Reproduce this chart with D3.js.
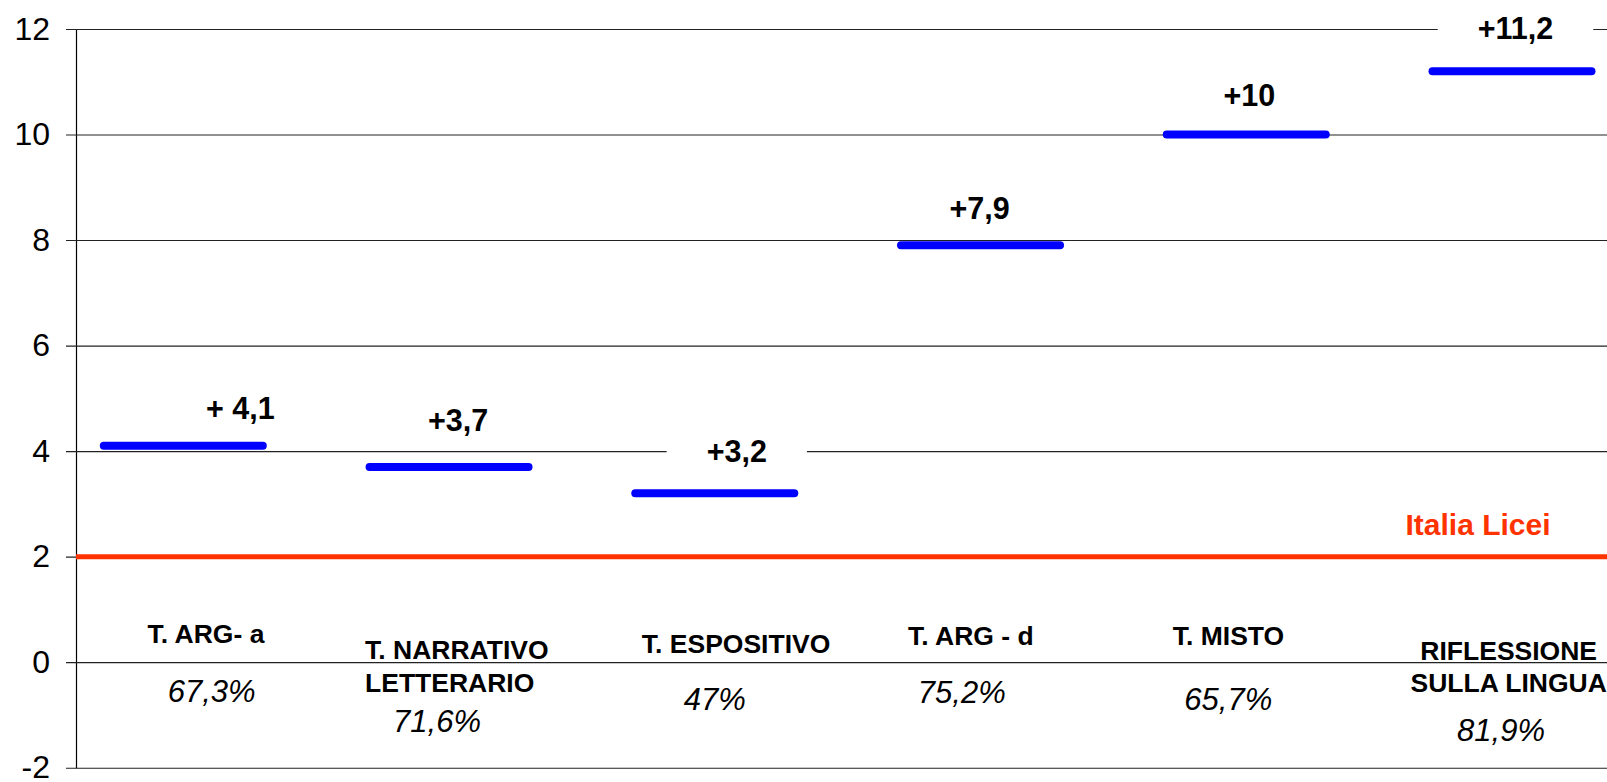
<!DOCTYPE html>
<html>
<head>
<meta charset="utf-8">
<script src="https://cdn.jsdelivr.net/npm/d3@7"></script>
<style>
  html, body { margin: 0; padding: 0; background: #fff; }
  svg { display: block; }
  text { font-family: "Liberation Sans", Arial, sans-serif; }
</style>
</head>
<body>
<svg id="chart" width="1607" height="782"></svg>
<script>
// ---- data ----
const categories = ["T. ARG- a", "T. NARRATIVO LETTERARIO", "T. ESPOSITIVO", "T. ARG - d", "T. MISTO", "RIFLESSIONE SULLA LINGUA"];
const categoryLines = [["T. ARG- a"], ["T. NARRATIVO", "LETTERARIO"], ["T. ESPOSITIVO"], ["T. ARG - d"], ["T. MISTO"], ["RIFLESSIONE", "SULLA LINGUA"]];
const values = [4.1, 3.7, 3.2, 7.9, 10, 11.2];
const valueLabels = ["+ 4,1", "+3,7", "+3,2", "+7,9", "+10", "+11,2"];
const percentLabels = ["67,3%", "71,6%", "47%", "75,2%", "65,7%", "81,9%"];
const referenceValue = 2;
const referenceLabel = "Italia Licei";
const yTicks = [-2, 0, 2, 4, 6, 8, 10, 12];
const yTickLabels = ["-2", "0", "2", "4", "6", "8", "10", "12"];

// ---- layout (manual label placement as in the original) ----
const valueNudge = [[57, -27], [9, -35.5], [22, -31.5], [-1, -26], [3, -28.5], [3.5, -32]];
const titleNudge = [
  {dx: 22.7, dy: -18.8, anchor: "middle", gap: 0},
  {dx: -84, dy: -2.8, anchor: "start", gap: 32.4},
  {dx: 21.3, dy: -9.4, anchor: "middle", gap: 0},
  {dx: -9.7, dy: -17.1, anchor: "middle", gap: 0},
  {dx: -17.8, dy: -17.1, anchor: "middle", gap: 0},
  {dx: -3.3, dy: -2.1, anchor: "middle", gap: 31.7}
];
const pctNudge = [[28.4, 40.2], [-12, 70.2], [0, 47.9], [-18.7, 41.2], [-18, 47.9], [-11, 78.6]];

const svg = d3.select("#chart");
const axisX = 76, plotTop = 29, plotBottom = 767.7, rightEdge = 1620;

const y = d3.scaleLinear().domain([-2, 12]).range([plotBottom, plotTop]);
const x = d3.scalePoint().domain(categories).range([183.3, 1512]);

// ---- y axis with gridlines ----
const yAxis = d3.axisLeft(y)
  .tickValues(yTicks)
  .tickFormat((d, i) => yTickLabels[i])
  .tickSizeInner(-(rightEdge - axisX))
  .tickSizeOuter(0)
  .tickPadding(26);

const gy = svg.append("g").attr("transform", `translate(${axisX},0)`).call(yAxis);
gy.select(".domain").attr("stroke", "#000").attr("stroke-width", 1.2);
gy.selectAll(".tick line").attr("x1", -10).attr("stroke", "#222").attr("stroke-width", 1.1);
gy.selectAll(".tick text")
  .attr("font-size", 32)
  .attr("fill", "#000")
  .attr("font-family", "'Liberation Sans', Arial, sans-serif");

// ---- reference line (Italia Licei) ----
svg.append("line")
  .attr("x1", axisX).attr("x2", rightEdge)
  .attr("y1", y(referenceValue)).attr("y2", y(referenceValue))
  .attr("stroke", "#FF3300").attr("stroke-width", 5);

svg.append("text")
  .attr("x", x(categories[5]) - 34)
  .attr("y", y(referenceValue) - 21.6)
  .attr("text-anchor", "middle")
  .attr("font-size", 30).attr("font-weight", "bold")
  .attr("fill", "#FF3300")
  .text(referenceLabel);

// ---- segments ----
const half = 79.5;
svg.append("g").selectAll("line.seg")
  .data(values)
  .join("line")
  .attr("class", "seg")
  .attr("x1", (d, i) => x(categories[i]) - half)
  .attr("x2", (d, i) => x(categories[i]) + half)
  .attr("y1", d => y(d)).attr("y2", d => y(d))
  .attr("stroke", "#0000FF")
  .attr("stroke-width", 8)
  .attr("stroke-linecap", "round");

// ---- value labels with white backgrounds ----
const vl = svg.append("g");
values.forEach((v, i) => {
  const cx = x(categories[i]) + valueNudge[i][0];
  const by = y(v) + valueNudge[i][1];
  const t = vl.append("text")
    .attr("x", cx).attr("y", by)
    .attr("text-anchor", "middle")
    .attr("font-size", 30.5).attr("font-weight", "bold")
    .attr("fill", "#000")
    .text(valueLabels[i]);
  const w = t.node().getComputedTextLength();
  vl.insert("rect", "text")
    .attr("x", cx - w / 2 - 40).attr("width", w + 80)
    .attr("y", by - 30).attr("height", 41)
    .attr("fill", "#fff");
});

// ---- category titles ----
const y0 = y(0);
categoryLines.forEach((lines, i) => {
  const L = titleNudge[i];
  const t = svg.append("text")
    .attr("text-anchor", L.anchor)
    .attr("font-size", 26.5).attr("font-weight", "bold")
    .attr("fill", "#000");
  lines.forEach((ln, j) => {
    t.append("tspan")
      .attr("x", x(categories[i]) + L.dx)
      .attr("y", y0 + L.dy + j * L.gap)
      .text(ln);
  });
});

// ---- percentages ----
svg.append("g").selectAll("text")
  .data(percentLabels)
  .join("text")
  .attr("x", (d, i) => x(categories[i]) + pctNudge[i][0])
  .attr("y", (d, i) => y0 + pctNudge[i][1])
  .attr("text-anchor", "middle")
  .attr("font-size", 31).attr("font-style", "italic")
  .attr("fill", "#000")
  .text(d => d);
</script>
</body>
</html>
